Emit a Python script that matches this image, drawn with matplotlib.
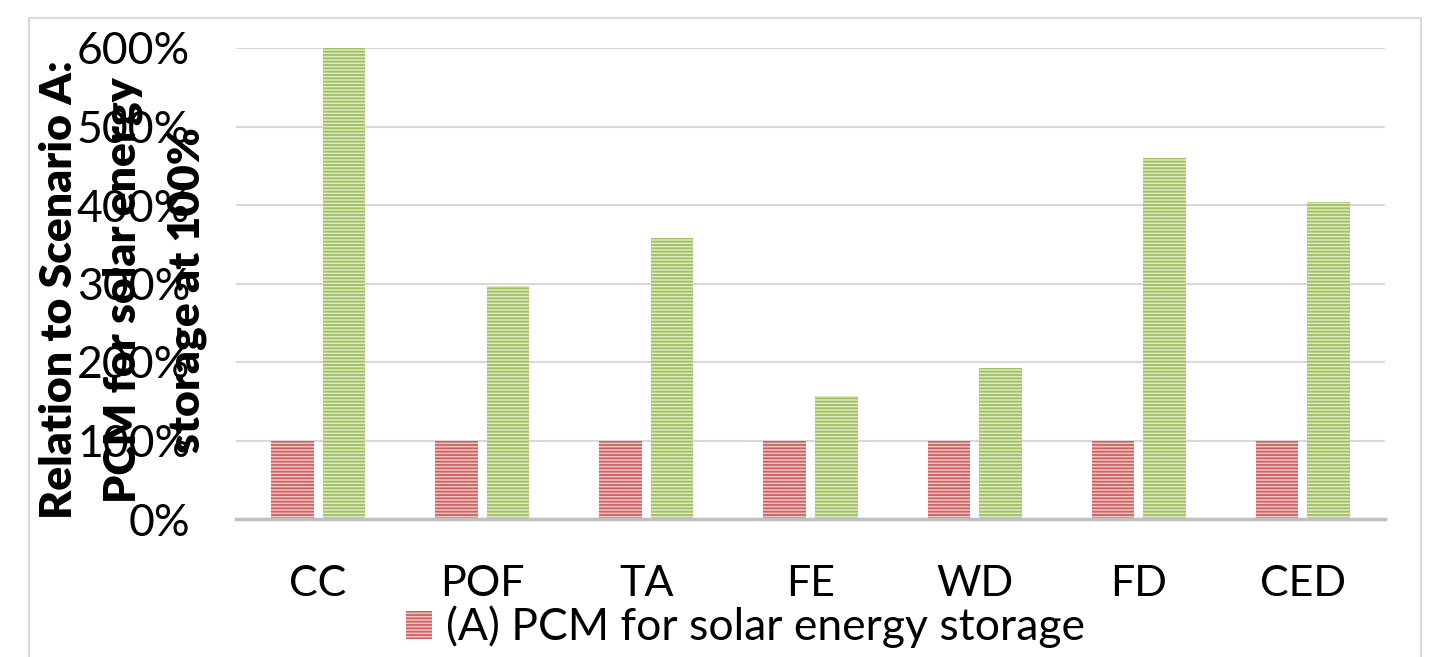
import matplotlib
matplotlib.use("Agg")
import matplotlib.pyplot as plt
import numpy as np
from matplotlib.patches import Rectangle, Patch
from matplotlib.ticker import FuncFormatter

categories = ["CC", "POF", "TA", "FE", "WD", "FD", "CED"]
scenario_a = [100, 100, 100, 100, 100, 100, 100]
scenario_b = [600, 297, 358, 157, 192, 460, 404]
legend_label = "(A) PCM for solar energy storage"
ylabel = "Relation to Scenario A:\nPCM for solar energy\nstorage at 100%"
yticks = [0, 100, 200, 300, 400, 500, 600]

plt.rcParams['font.family'] = ['Lato', 'DejaVu Sans']
plt.rcParams['hatch.linewidth'] = 1.3

W, H = 1436, 657
fig = plt.figure(figsize=(W/100, H/100), dpi=100)
ax = fig.add_axes([236/W, 1-519/H, (1385-236)/W, (519-48)/H])

x = np.arange(len(categories))
bw = 0.26
off = 0.157
ax.bar(x - off, scenario_a, bw, facecolor='#f3c6c6', edgecolor='#cf5f5f',
       hatch='-----', linewidth=0, zorder=3)
ax.bar(x + off, scenario_b, bw, facecolor='#dde9c8', edgecolor='#9fc05c',
       hatch='-----', linewidth=0, zorder=3)

ax.set_xlim(-0.5, len(categories) - 0.5)
ax.set_ylim(0, 600)
ax.set_yticks(yticks)
ax.yaxis.set_major_formatter(FuncFormatter(lambda v, p: f"{int(v)}%"))
ax.set_xticks(x)
ax.set_xticklabels(categories)
ax.tick_params(axis='y', length=0, labelsize=32, pad=33)
ax.tick_params(axis='x', length=0, labelsize=31, pad=33)
ax.grid(axis='y', color='#d9d9d9', linewidth=1.5, zorder=0)
for s in ['top', 'right', 'left']:
    ax.spines[s].set_visible(False)
ax.spines['bottom'].set_color('#bfbfbf')
ax.spines['bottom'].set_linewidth(2.5)
ax.spines['bottom'].set_zorder(4)

fig.text(123/W, 1-290/H, ylabel, rotation=90, ha='center', va='center',
         multialignment='center', fontsize=32, fontweight='heavy', linespacing=1.7)

handle = Patch(facecolor='#f3c6c6', edgecolor='#cf5f5f', hatch='-----', linewidth=0)
fig.legend([handle], [legend_label], loc='center', bbox_to_anchor=(745/W, 1-627/H),
           frameon=False, fontsize=32, handlelength=0.6, handleheight=0.6,
           handletextpad=0.3, borderpad=0)

fig.patches.append(Rectangle((29/W, -0.1), (1421-29)/W, 1.1-18/H,
                             transform=fig.transFigure, fill=False,
                             edgecolor='#d9d9d9', linewidth=1.5, zorder=0))

fig.savefig("out.png", dpi=100)
